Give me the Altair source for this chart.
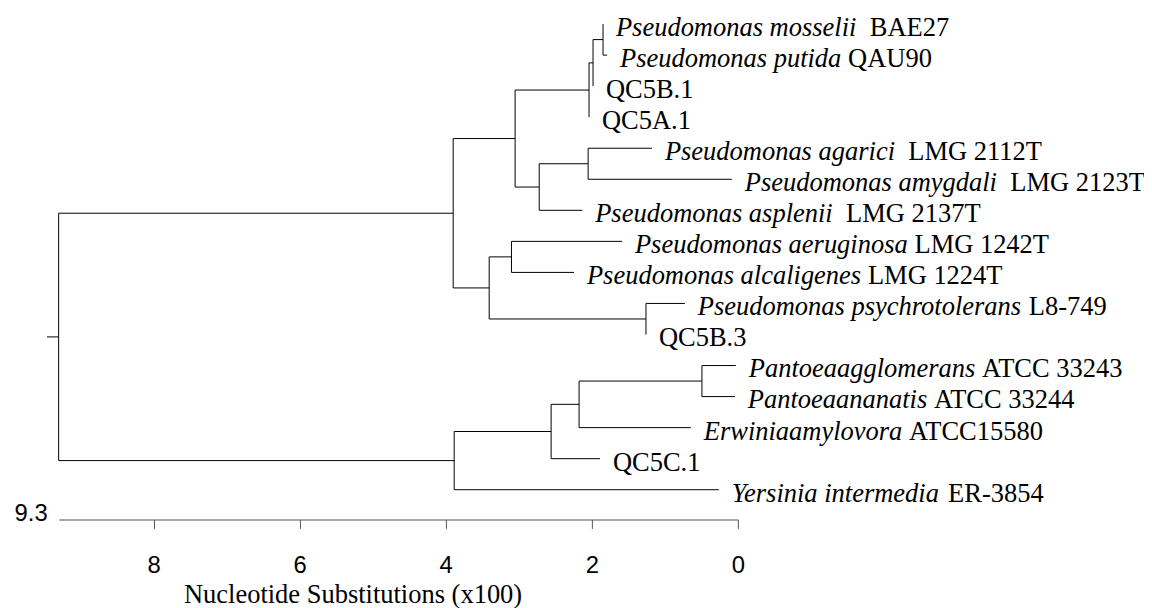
import altair as alt
import pandas as pd

# ---- leaves (top to bottom) ----
leaf_species = ["Pseudomonas mosselii", "Pseudomonas putida", "", "",
                "Pseudomonas agarici", "Pseudomonas amygdali", "Pseudomonas asplenii",
                "Pseudomonas aeruginosa", "Pseudomonas alcaligenes",
                "Pseudomonas psychrotolerans", "",
                "Pantoeaagglomerans", "Pantoeaananatis", "Erwiniaamylovora", "",
                "Yersinia intermedia"]
leaf_gap = [2, 1, 0, 0, 2, 2, 2, 1, 1, 1, 0, 1, 1, 1, 0, 1]
leaf_strain = ["BAE27", "QAU90", "QC5B.1", "QC5A.1", "LMG 2112T", "LMG 2123T",
               "LMG 2137T", "LMG 1242T", "LMG 1224T", "L8-749", "QC5B.3",
               "ATCC 33243", "ATCC 33244", "ATCC15580", "QC5C.1", "ER-3854"]
leaf_height = [1.846, 1.79, 1.983, 2.038, 1.176, 0.082, 2.13, 1.586, 2.243,
               0.725, 1.258, 0.027, 0.04, 0.643, 1.887, 0.26]

# ---- internal nodes (children listed before parents) ----
node_names = ["A", "B", "C", "F", "E", "D", "I", "J", "H", "G",
              "N", "M", "L", "K", "root"]
node_height = [1.846, 1.983, 2.038, 2.05, 2.72, 3.05, 3.10, 1.258, 3.405, 3.898,
               0.492, 2.174, 2.557, 3.884, 9.3]
node_children = [("L0", "L1"), ("A", "L2"), ("B", "L3"), ("L4", "L5"), ("F", "L6"),
                 ("C", "E"), ("L7", "L8"), ("L9", "L10"), ("I", "J"), ("D", "H"),
                 ("L11", "L12"), ("N", "L13"), ("M", "L14"), ("L", "L15"), ("G", "K")]
root_stub = 0.16

tick_values = [8, 6, 4, 2, 0]
x_max = 9.3

W, H = 684, 513

# ---- layout of dendrogram ----
pos = {}
for i, h in enumerate(leaf_height):
    pos["L%d" % i] = (h, float(i))
segs = []
for name, h, (c1, c2) in zip(node_names, node_height, node_children):
    y1, y2 = pos[c1][1], pos[c2][1]
    for c in (c1, c2):
        segs.append({"x": h, "x2": pos[c][0], "y": pos[c][1], "y2": pos[c][1]})
    segs.append({"x": h, "x2": h, "y": min(y1, y2), "y2": max(y1, y2)})
    pos[name] = (h, (y1 + y2) / 2)
rh, ry = pos["root"]
segs.append({"x": rh, "x2": rh + root_stub, "y": ry, "y2": ry})
seg_df = pd.DataFrame(segs)

# Times-like italic advance widths (per em) to place the roman strain after the italic name
ital_w = {" ": .25, "P": .611, "E": .611, "Y": .556, "a": .5, "c": .444, "d": .5,
          "e": .444, "g": .5, "h": .5, "i": .278, "l": .278, "m": .722, "n": .5,
          "o": .5, "p": .5, "r": .389, "s": .389, "t": .278, "u": .5, "v": .444,
          "w": .667, "y": .444}
FS = 26.67
DX = 13
units_per_px = x_max / W

def italic_width(s):
    return sum(ital_w.get(ch, .5) for ch in s) * FS

rows = []
for i in range(len(leaf_species)):
    sp = leaf_species[i]
    off = DX + (italic_width(sp) + leaf_gap[i] * .25 * FS if sp else 0)
    rows.append({"x": leaf_height[i], "y": float(i), "species": sp,
                 "strain": leaf_strain[i], "xs": leaf_height[i] - off * units_per_px})
lab_df = pd.DataFrame(rows)

xscale = alt.Scale(domain=[0, x_max], reverse=True, nice=False, zero=False)
yscale = alt.Scale(domain=[-0.45, 15.96], reverse=True, nice=False, zero=False)

xaxis = alt.Axis(values=tick_values, format="d", grid=False, tickSize=9,
                 tickColor="#555", domainColor="#555", labelColor="black",
                 labelFont="Liberation Sans", labelFontSize=24, labelPadding=25,
                 labelFlush=False,
                 title="Nucleotide Substitutions (x100)", titleFont="Liberation Serif",
                 titleFontSize=26.67, titleFontWeight="normal", titleColor="black",
                 titleX=296, titleY=84, titleAlign="center", titleBaseline="alphabetic")

tree = alt.Chart(seg_df).mark_rule(color="black", strokeWidth=1).encode(
    x=alt.X("x:Q", scale=xscale, axis=xaxis),
    x2="x2:Q",
    y=alt.Y("y:Q", scale=yscale, axis=None),
    y2="y2:Q",
)

species = alt.Chart(lab_df).mark_text(
    align="left", baseline="alphabetic", dx=DX, dy=12, font="Liberation Serif",
    fontSize=FS, fontStyle="italic", color="black"
).encode(x=alt.X("x:Q", scale=xscale), y=alt.Y("y:Q", scale=yscale), text="species:N")

strain = alt.Chart(lab_df).mark_text(
    align="left", baseline="alphabetic", dy=12, font="Liberation Serif",
    fontSize=FS, color="black"
).encode(x=alt.X("xs:Q", scale=xscale), y=alt.Y("y:Q", scale=yscale),
         text="strain:N")

maxlab = alt.Chart(pd.DataFrame({"v": [x_max], "t": ["9.3"]})).mark_text(
    align="right", baseline="alphabetic", dx=-11, font="Liberation Sans",
    fontSize=24, color="black"
).encode(x=alt.X("v:Q", scale=xscale), y=alt.value(H + 2), text="t:N")

chart = alt.layer(tree, species, strain, maxlab).properties(
    width=W, height=H,
    padding={"left": 51, "top": 0, "right": 409, "bottom": 87},
    autosize=alt.AutoSizeParams(type="none"),
).configure_view(stroke=None)

chart.save("out.html", embed_options={"renderer": "svg", "actions": False})
